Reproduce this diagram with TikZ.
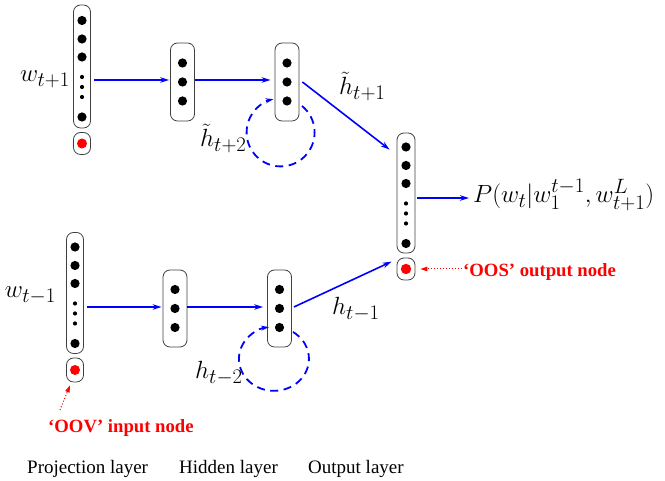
\documentclass[tikz,border=0pt]{standalone}
\usepackage{fontspec}
\newfontfamily\tms{Liberation Serif}
\usetikzlibrary{arrows.meta}
\tikzset{
  lay/.style={draw=black!75, line width=0.8pt, rounded corners=7pt, inner sep=0pt, minimum width=#1},
  lay/.default=17pt,
  arr/.style={draw=blue, line width=1.6pt, -{Stealth[length=9pt,width=5.5pt]}},
  rec/.style={draw=blue, line width=1.8pt, dash pattern=on 8pt off 5.5pt, -{Stealth[length=8pt,width=5pt]}},
  redarr/.style={draw=red, line width=1pt, dotted, -{Triangle[length=7pt,width=4.5pt]}},
  mlab/.style={inner sep=0pt, font=\fontsize{29.5}{34}\selectfont},
  tlab/.style={inner sep=0pt, font=\tms\fontsize{19}{22}\selectfont},
  rlab/.style={inner sep=0pt, text=red, font=\tms\bfseries\fontsize{18.7}{22}\selectfont},
}
\newcommand{\longdots}[1]{%
  \foreach \d in {46,27.5,9.5,-50.5} \fill ([yshift=\d pt]#1.center) circle (4.6);
  \foreach \d in {-10.5,-20.5,-30.5} \fill ([yshift=\d pt]#1.center) circle (2.1);}
\newcommand{\shortdots}[1]{%
  \foreach \d in {19,0,-19} \fill ([yshift=\d pt]#1.center) circle (4.6);}
\begin{document}
\begin{tikzpicture}[x=1pt,y=1pt]
\useasboundingbox (0,0) rectangle (665,481);
% projection layer
\node[lay=17pt, minimum height=123pt] (p1) at (82,414.5) {};
\node[lay=17pt, minimum height=22pt] (r1) at (82,337.5) {};
\node[lay=17pt, minimum height=121pt] (p2) at (75,188) {};
\node[lay=17pt, minimum height=24pt] (r2) at (75,111) {};
% hidden layer
\node[lay=24pt, minimum height=78pt] (h1) at (182.5,399) {};
\node[lay=24pt, minimum height=78pt] (h2) at (287,399) {};
\node[lay=24pt, minimum height=77pt] (h3) at (175,172.5) {};
\node[lay=24pt, minimum height=77pt] (h4) at (279.5,172.5) {};
% output layer
\node[lay=18pt, minimum height=120pt] (o) at (406,288) {};
\node[lay=18pt, minimum height=22pt] (ro) at (406,212) {};
% dots
\longdots{p1}\longdots{p2}\longdots{o}
\shortdots{h1}\shortdots{h2}\shortdots{h3}\shortdots{h4}
\fill[red] (r1.center) circle (5);
\fill[red] (r2.center) circle (5);
\fill[red] (ro.center) circle (5.2);
% connectors
\coordinate (a1) at ([shift={(3,-13.5)}]p1.east);
\draw[arr] (a1) -- ([xshift=-1pt]a1 -| h1.west);
\coordinate (a2) at ([yshift=2pt]h1.east);
\draw[arr] (a2) -- ([xshift=-4pt]a2 -| h2.west);
\coordinate (b1) at ([shift={(3,-14)}]p2.east);
\draw[arr] (b1) -- ([xshift=-1pt]b1 -| h3.west);
\coordinate (b2) at ([yshift=1.5pt]h3.east);
\draw[arr] (b2) -- ([xshift=-4pt]b2 -| h4.west);
\draw[arr] ([xshift=3pt]h2.east) -- ([shift={(-7,-17)}]o.north west);
\draw[arr] ([shift={(2,1.5)}]h4.east) -- ([shift={(-5,-4)}]ro.north west);
\coordinate (c1) at ([shift={(2,-5)}]o.east);
\node[mlab, anchor=base west] (P) at (473,278) {$P(w_t|w_1^{t-1},w_{t+1}^L)$};
\draw[arr] (c1) -- ([xshift=-4pt]c1 -| P.west);
% recurrences
\draw[rec] ([shift={(15,-24)}]h2.center) arc[start angle=51, end angle=-258, radius=34];
\draw[rec] ([shift={(13.5,-23.5)}]h4.center) arc[start angle=57, end angle=-262, x radius=35, y radius=32];
% labels
\node[mlab, anchor=base east] (lw1) at (70,399) {$w_{t+1}$};
\node[mlab, anchor=base east] (lw2) at (56,183) {$w_{t-1}$};
\node[mlab, anchor=base west] (lh1) at (200,334) {$\tilde{h}_{t+2}$};
\node[mlab, anchor=base west] (lh2) at (339,386) {$\tilde{h}_{t+1}$};
\node[mlab, anchor=base west] (lh3) at (195,102) {$h_{t-2}$};
\node[mlab, anchor=base west] (lh4) at (332,166) {$h_{t-1}$};
% red annotations
\node[rlab, anchor=base west] (oov) at (48,48) {‘OOV’ input node};
\node[rlab, anchor=base west] (oos) at (463,204) {‘OOS’ output node};
\coordinate (oovtail) at (60,71);
\draw[redarr] (oovtail) -- ([shift={(-5,-3)}]r2.south);
\draw[redarr] ([xshift=-1pt]oos.west |- ro.center) -- ([xshift=5pt]ro.east);
% layer names
\node[tlab, anchor=base west] (l1) at (27,7) {Projection layer};
\node[tlab, anchor=base west] (l2) at (179,7) {Hidden layer};
\node[tlab, anchor=base west] (l3) at (308,7) {Output layer};
\end{tikzpicture}
\end{document}
